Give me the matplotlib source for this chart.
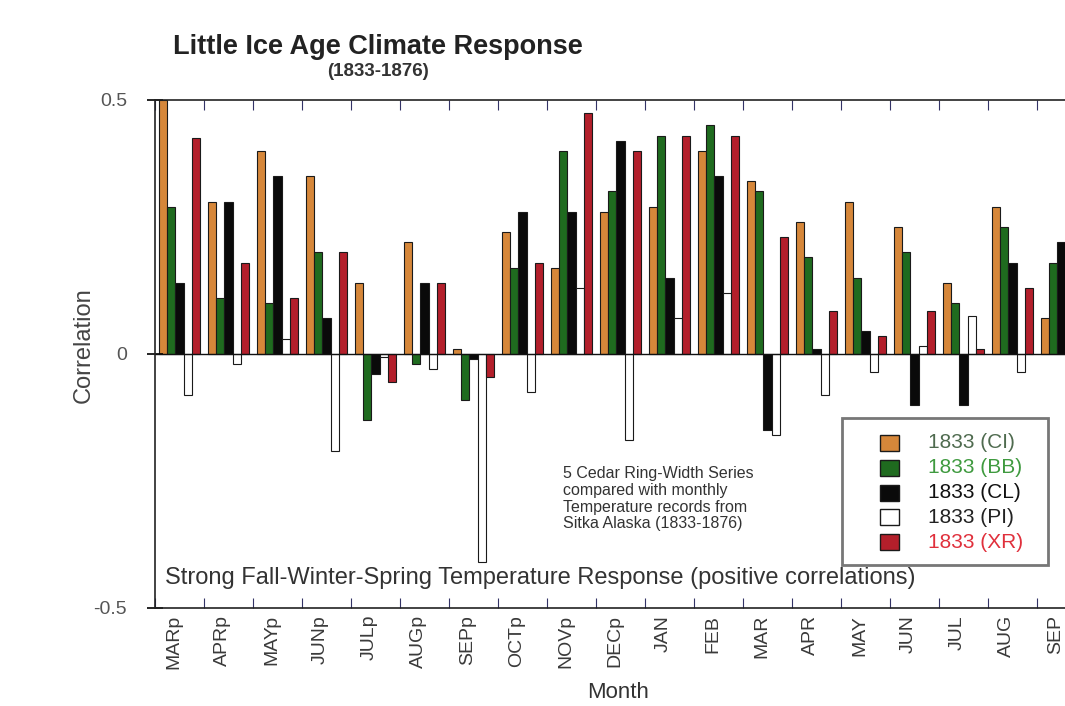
"""Little Ice Age climate response: cedar ring-width correlations vs monthly temperature."""
import numpy as np
import matplotlib
matplotlib.use("Agg")
import matplotlib.pyplot as plt
from matplotlib.patches import Rectangle
from matplotlib.ticker import FixedLocator, NullFormatter

plt.rcParams["font.family"] = ["Liberation Sans", "DejaVu Sans"]

MONTHS = ["MARp", "APRp", "MAYp", "JUNp", "JULp", "AUGp", "SEPp", "OCTp", "NOVp",
          "DECp", "JAN", "FEB", "MAR", "APR", "MAY", "JUN", "JUL", "AUG", "SEP"]

ci = [0.50, 0.30, 0.40, 0.35, 0.14, 0.22, 0.01, 0.24, 0.17, 0.28,
      0.29, 0.40, 0.34, 0.26, 0.30, 0.25, 0.14, 0.29, 0.07]
bb = [0.29, 0.11, 0.10, 0.20, -0.13, -0.02, -0.09, 0.17, 0.40, 0.32,
      0.43, 0.45, 0.32, 0.19, 0.15, 0.20, 0.10, 0.25, 0.18]
cl = [0.14, 0.30, 0.35, 0.07, -0.04, 0.14, -0.01, 0.28, 0.28, 0.42,
      0.15, 0.35, -0.15, 0.01, 0.045, -0.10, -0.10, 0.18, 0.22]
pi = [-0.08, -0.02, 0.03, -0.19, -0.005, -0.03, -0.41, -0.075, 0.13, -0.17,
      0.07, 0.12, -0.16, -0.08, -0.035, 0.015, 0.075, -0.035, -0.22]
xr = [0.425, 0.18, 0.11, 0.20, -0.055, 0.14, -0.045, 0.18, 0.475, 0.40,
      0.43, 0.43, 0.23, 0.085, 0.035, 0.085, 0.01, 0.13, np.nan]

SERIES = [
    ("1833 (CI)", ci, "#d6873a", "#4f6b4f"),
    ("1833 (BB)", bb, "#1f6b1f", "#3f9a3f"),
    ("1833 (CL)", cl, "#0a0a0a", "#111111"),
    ("1833 (PI)", pi, "#ffffff", "#222222"),
    ("1833 (XR)", xr, "#b31f2b", "#e0303c"),
]

W, H = 1065, 706
fig = plt.figure(figsize=(W / 100, H / 100), dpi=100)
# axes run past the right edge of the picture, as in the original crop
ax = fig.add_axes([155 / W, 1 - 608 / H, 931 / W, 508 / H])

x = np.arange(len(MONTHS))
bw = 0.165
for k, (name, vals, color, _) in enumerate(SERIES):
    ax.bar(x + (k - 2) * bw, vals, width=bw, color=color,
           edgecolor="#1a1a1a", linewidth=0.8, label=name)

ax.axhline(0, color="#111111", lw=1.0)
ax.set_xlim(-0.5, len(MONTHS) - 0.5)
ax.set_ylim(-0.5, 0.5)

ax.xaxis.set_major_locator(FixedLocator(np.arange(-0.5, len(MONTHS), 1.0)))
ax.xaxis.set_major_formatter(NullFormatter())
ax.set_xticks(x - 0.12, minor=True)
ax.set_xticklabels(MONTHS, minor=True, rotation=90, fontsize=14, color="#3a3a3a")
ax.tick_params(axis="x", which="major", direction="in", length=7, top=True,
               bottom=True, color="#333366")
ax.tick_params(axis="x", which="minor", length=0, pad=5)

ax.set_yticks([-0.5, 0, 0.5])
ax.set_yticklabels(["-0.5", "0", "0.5"], fontsize=14, color="#555555")
ax.tick_params(axis="y", direction="inout", length=12, width=1.2, right=False, pad=14)

for sp in ax.spines.values():
    sp.set_color("#222222")
    sp.set_linewidth(1.2)

fig.text(84 / W, 1 - 345 / H, "Correlation", rotation=90, ha="center", va="center",
         fontsize=17, color="#444444")
fig.text(618 / W, 1 - 692 / H, "Month", ha="center", va="center",
         fontsize=16, color="#333333")

fig.text(378 / W, 1 - 47 / H, "Little Ice Age Climate Response", ha="center",
         va="center", fontsize=19.5, fontweight="bold", color="#222222")
fig.text(378 / W, 1 - 72 / H, "(1833-1876)", ha="center", va="center",
         fontsize=13.5, fontweight="bold", color="#333333")

fig.text(563 / W, 1 - 466 / H,
         "5 Cedar Ring-Width Series\ncompared with monthly\n"
         "Temperature records from\nSitka Alaska (1833-1876)",
         ha="left", va="top", fontsize=11.5, linespacing=1.15, color="#333333")
fig.text(165 / W, 1 - 578 / H,
         "Strong Fall-Winter-Spring Temperature Response (positive correlations)",
         ha="left", va="center", fontsize=17, color="#333333")

# legend box drawn by hand to match the original layout
fig.add_artist(Rectangle((842 / W, 1 - 565 / H), 206 / W, 147 / H,
                         transform=fig.transFigure, facecolor="white",
                         edgecolor="#777777", linewidth=2.0))
for i, (name, _, color, tcol) in enumerate(SERIES):
    yc = 443 + i * 24.8
    fig.add_artist(Rectangle((880 / W, 1 - (yc + 8) / H), 19 / W, 16 / H,
                             transform=fig.transFigure, facecolor=color,
                             edgecolor="#1a1a1a", linewidth=1.0))
    fig.text(928 / W, 1 - yc / H, name, ha="left", va="center",
             fontsize=15, color=tcol)

fig.savefig("out.png", dpi=100)
